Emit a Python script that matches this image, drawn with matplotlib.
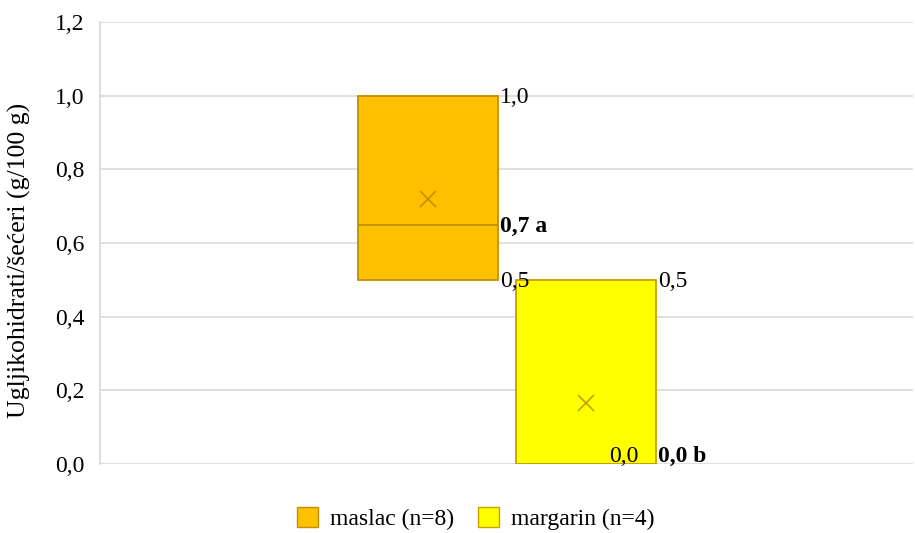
import matplotlib.pyplot as plt
from matplotlib.patches import Patch

plt.rcParams["font.family"] = ["Liberation Serif", "DejaVu Serif"]

groups = ["maslac (n=8)", "margarin (n=4)"]
q1 = [0.5, 0.0]
median = [0.65, 0.0]
q3 = [1.0, 0.5]
mean = [0.72, 0.166]
fills = ["#ffc000", "#ffff00"]
edges = ["#c09000", "#c8a000"]
median_labels = ["0,7 a", "0,0 b"]

fig = plt.figure(figsize=(9.15, 5.33), dpi=100)
ax = fig.add_axes([0.109, 0.1295, 0.889, 0.8292])

positions = [1, 2]
stats = []
for i in range(len(groups)):
    stats.append({"med": median[i], "q1": q1[i], "q3": q3[i],
                  "whislo": q1[i], "whishi": q3[i], "mean": mean[i]})

bp = ax.bxp(stats, positions=positions, widths=0.886, patch_artist=True,
            showmeans=False, showcaps=False, showfliers=False, zorder=3)
for i, box in enumerate(bp["boxes"]):
    box.set_facecolor(fills[i])
    box.set_edgecolor(edges[i])
    box.set_linewidth(1.3)
for i, med in enumerate(bp["medians"]):
    med.set_color(edges[i])
    med.set_linewidth(1.3)
for w in bp["whiskers"]:
    w.set_visible(False)

fs = 17
for i, p in enumerate(positions):
    ax.plot(p, mean[i], marker="x", color=edges[i], markersize=12,
            markeredgewidth=1.2, zorder=4)
    right = p + 0.886 / 2 + 0.01
    ax.text(right, q3[i] - 0.005, f"{q3[i]:.1f}".replace(".", ","), fontsize=fs,
            ha="left", va="center", zorder=5)
    ax.text(right, median[i] + (0.02 if median[i] == 0 else -0.005), median_labels[i],
            fontsize=fs, fontweight="bold", ha="left", va="center", zorder=5)
    if q1[i] > 0:
        ax.text(right, q1[i] - 0.005, f"{q1[i]:.1f}".replace(".", ","), fontsize=fs,
                ha="left", va="center", zorder=5)
    else:
        ax.text(right - 0.12, q1[i] + 0.02, f"{q1[i]:.1f}".replace(".", ","),
                fontsize=fs, ha="right", va="center", zorder=5)

ax.set_xlim(-1.08, 4.07)
ax.set_ylim(0, 1.2)
ax.set_yticks([0, 0.2, 0.4, 0.6, 0.8, 1.0, 1.2])
ax.set_yticklabels([f"{v:.1f}".replace(".", ",") for v in ax.get_yticks()], fontsize=17)
ax.set_xticks([])
ax.tick_params(axis="y", length=0, pad=11)
ax.grid(axis="y", color="#d9d9d9", linewidth=1.2, zorder=0)
for s in ax.spines.values():
    s.set_visible(False)
ax.spines["left"].set_visible(True)
ax.spines["left"].set_color("#d9d9d9")
ax.spines["left"].set_linewidth(1.2)
ax.set_ylabel("Ugljikohidrati/šećeri (g/100 g)", fontsize=18.5)
ax.yaxis.set_label_coords(-0.084, 0.46)

handles = [Patch(facecolor=fills[i], edgecolor=edges[i], label=groups[i]) for i in range(len(groups))]
fig.legend(handles=handles, loc="lower center", bbox_to_anchor=(0.52, -0.035), ncol=2,
           frameon=False, fontsize=17, handlelength=0.9, handleheight=0.9,
           handletextpad=0.5, columnspacing=1.0)

fig.savefig("out.png", dpi=100)
